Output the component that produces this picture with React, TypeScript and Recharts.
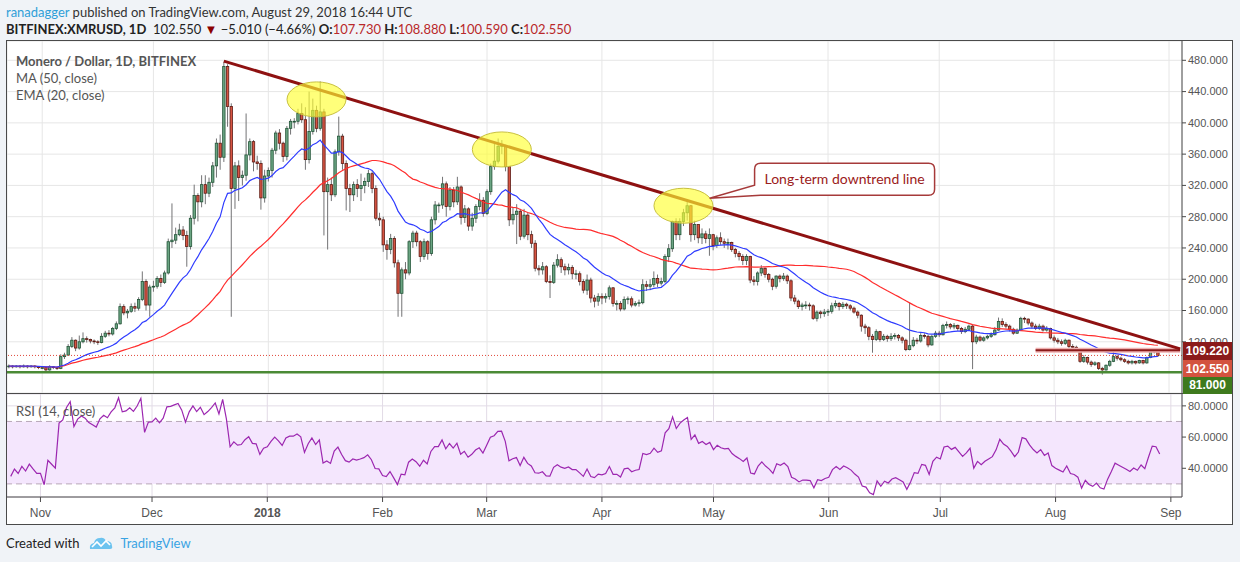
import React from "react";
import {
  ComposedChart,
  Bar,
  Line,
  XAxis,
  YAxis,
  CartesianGrid,
  ReferenceLine,
  ReferenceDot,
  ReferenceArea,
} from "recharts";

// [high, low, close] per day, open = previous close
type HLC = [number, number, number];

const firstOpen = 88;

const oct17: HLC[] = [
  [91, 86, 89], [90, 86, 88], [90, 87, 89], [90, 86, 88], [91, 87, 89], [90, 86, 88], [90, 87, 89], [90, 86, 88], [89, 85, 87],
];
const nov17: HLC[] = [
  [89, 85, 87], [88, 81, 84], [90, 83, 88], [89, 85, 87], [88, 84, 86], [104, 85, 101], [106, 98, 103], [117, 102, 114], [126, 112, 122], [123, 108, 112],
  [128, 110, 120], [132, 118, 124], [127, 119, 123], [124, 118, 121], [123, 117, 120], [122, 116, 119], [131, 118, 127], [134, 125, 131], [135, 127, 130], [139, 128, 137],
  [146, 135, 143], [169, 142, 165], [168, 154, 157], [162, 150, 159], [169, 157, 165], [170, 158, 163], [177, 160, 174], [210, 172, 197], [200, 160, 167], [193, 152, 190],
];
const dec17: HLC[] = [
  [198, 184, 191], [204, 188, 201], [206, 190, 196], [211, 194, 208], [252, 206, 248], [297, 240, 250], [266, 245, 257], [271, 255, 263], [268, 250, 256], [262, 216, 242],
  [282, 238, 278], [321, 270, 307], [310, 274, 299], [333, 292, 321], [333, 296, 310], [330, 305, 324], [350, 318, 345], [380, 330, 374], [385, 340, 356], [478, 350, 472],
  [475, 395, 421], [425, 152, 316], [350, 290, 345], [352, 300, 330], [339, 320, 333], [412, 326, 359], [380, 352, 376], [378, 338, 350], [358, 340, 348], [352, 289, 304],
  [340, 298, 332],
];
const jan18: HLC[] = [
  [343, 325, 339], [368, 330, 365], [390, 360, 387], [392, 366, 374], [376, 350, 357], [396, 352, 393], [405, 385, 402], [406, 393, 402], [418, 398, 412], [425, 400, 404],
  [420, 340, 353], [440, 348, 389], [431, 385, 416], [422, 388, 393], [453, 390, 414], [418, 256, 312], [330, 238, 321], [330, 300, 308], [366, 305, 363], [408, 358, 383],
  [386, 340, 348], [352, 288, 316], [322, 286, 308], [325, 300, 321], [328, 305, 316], [335, 300, 320], [330, 310, 325], [340, 318, 335], [338, 310, 316], [320, 275, 278],
  [285, 268, 276],
];
const feb18: HLC[] = [
  [280, 235, 244], [250, 225, 238], [258, 232, 252], [255, 215, 221], [225, 152, 182], [215, 152, 212], [222, 200, 208], [250, 205, 248], [262, 240, 259], [262, 242, 248],
  [250, 222, 229], [252, 225, 248], [250, 225, 233], [280, 230, 276], [300, 270, 295], [298, 285, 295], [331, 290, 322], [325, 280, 293], [318, 288, 314], [318, 292, 299],
  [331, 295, 318], [320, 270, 279], [295, 272, 290], [292, 262, 268], [285, 262, 278], [296, 272, 293], [310, 288, 301], [305, 280, 284],
];
const mar18: HLC[] = [
  [315, 282, 312], [348, 308, 344], [376, 340, 351], [380, 348, 370], [378, 360, 371], [372, 338, 344], [340, 268, 276], [292, 270, 283], [296, 245, 287], [290, 250, 255],
  [290, 252, 282], [285, 250, 257], [262, 240, 246], [250, 210, 214], [218, 205, 212], [222, 206, 216], [218, 195, 197], [205, 176, 196], [222, 194, 218], [232, 215, 225],
  [228, 208, 216], [220, 205, 212], [220, 206, 215], [218, 200, 207], [212, 200, 207], [210, 192, 197], [200, 182, 186], [206, 180, 199], [202, 170, 176], [180, 164, 172],
  [182, 166, 178],
];
const apr18: HLC[] = [
  [182, 168, 176], [182, 170, 178], [192, 174, 189], [190, 165, 169], [173, 160, 169], [172, 159, 162], [178, 160, 174], [178, 168, 175], [178, 164, 167], [172, 165, 169],
  [174, 165, 170], [200, 168, 193], [198, 185, 191], [200, 186, 193], [210, 190, 201], [206, 190, 195], [202, 192, 197], [232, 195, 229], [245, 222, 239], [275, 235, 274],
  [278, 250, 257], [278, 250, 274], [290, 268, 285], [302, 275, 294], [295, 248, 257], [275, 250, 270], [270, 246, 253], [265, 245, 258], [262, 246, 252], [265, 230, 257],
];
const may18: HLC[] = [
  [258, 237, 243], [256, 240, 253], [260, 244, 248], [252, 240, 246], [252, 238, 247], [248, 235, 238], [240, 228, 233], [236, 224, 229], [232, 218, 224], [232, 218, 229],
  [230, 195, 199], [204, 192, 197], [210, 192, 208], [218, 204, 214], [215, 202, 206], [208, 196, 200], [202, 186, 191], [205, 188, 204], [206, 196, 201], [208, 198, 204],
  [206, 194, 198], [200, 172, 176], [180, 168, 172], [174, 162, 165], [170, 160, 167], [172, 162, 167], [170, 160, 166], [168, 148, 150], [160, 146, 158], [160, 150, 156],
  [162, 152, 158],
];
const jun18: HLC[] = [
  [162, 153, 159], [170, 156, 166], [173, 163, 169], [171, 160, 165], [171, 162, 168], [170, 162, 166], [168, 160, 163], [165, 156, 158], [160, 150, 154], [155, 133, 140],
  [143, 130, 138], [140, 122, 127], [130, 106, 123], [136, 121, 133], [134, 120, 123], [130, 121, 127], [129, 120, 124], [131, 121, 127], [131, 123, 128], [130, 121, 125],
  [127, 118, 122], [124, 108, 110], [170, 109, 115], [126, 113, 122], [125, 117, 121], [131, 119, 128], [131, 124, 127], [129, 113, 116], [129, 115, 127], [134, 125, 131],
];
const jul18: HLC[] = [
  [134, 126, 129], [143, 128, 141], [146, 137, 142], [144, 136, 139], [144, 136, 141], [142, 134, 137], [139, 130, 133], [139, 131, 136], [142, 134, 140], [142, 85, 120],
  [129, 117, 126], [128, 120, 122], [127, 120, 125], [129, 123, 127], [132, 125, 129], [139, 128, 135], [151, 134, 146], [150, 139, 142], [145, 137, 140], [142, 133, 136],
  [138, 129, 131], [137, 130, 135], [152, 134, 150], [152, 144, 149], [150, 141, 144], [146, 137, 140], [143, 135, 137], [143, 135, 140], [142, 133, 135], [140, 133, 137],
  [138, 123, 125],
];
const aug18: HLC[] = [
  [128, 119, 122], [125, 117, 120], [123, 115, 118], [124, 116, 122], [123, 112, 114], [117, 110, 113], [115, 107, 110], [111, 93, 95], [103, 93, 100], [101, 91, 94],
  [96, 88, 91], [95, 89, 93], [94, 84, 86], [88, 78, 84], [91, 83, 90], [97, 88, 95], [110, 94, 101], [103, 96, 99], [101, 95, 97], [99, 93, 95],
  [97, 91, 93], [97, 91, 95], [96, 91, 93], [97, 92, 96], [97, 91, 93], [101, 92, 100], [109, 99, 108], [112, 105, 107.56], [108.88, 100.59, 102.55],
];

const monthTicks = [9, 39, 70, 101, 129, 160, 190, 221, 251, 282, 313];
const monthLabels = ["Nov", "Dec", "2018", "Feb", "Mar", "Apr", "May", "Jun", "Jul", "Aug", "Sep"];
const priceTicks = [120, 160, 200, 240, 280, 320, 360, 400, 440, 480];
const rsiTicks = [40, 60, 80];
const slots = 317;

const candles = [oct17, nov17, dec17, jan18, feb18, mar18, apr18, may18, jun18, jul18, aug18].flat();
const closes = candles.map((k) => k[2]);

function sma(v: number[], n: number) {
  return v.map((_, i) => {
    const part = v.slice(Math.max(0, i - n + 1), i + 1);
    return part.reduce((a, b) => a + b, 0) / part.length;
  });
}

function ema(v: number[], n: number) {
  const k = 2 / (n + 1);
  let e = v[0];
  return v.map((x, i) => (e = i === 0 ? x : x * k + e * (1 - k)));
}

// Wilder RSI; the averages are seeded from the October moves
function rsi(v: number[], n: number, seed: number) {
  const moves = v.slice(1, seed).map((x, i) => x - v[i]);
  let g = moves.reduce((a, d) => a + Math.max(d, 0), 0) / moves.length;
  let l = moves.reduce((a, d) => a + Math.max(-d, 0), 0) / moves.length;
  return v.map((x, i) => {
    if (i === 0) return null;
    const d = x - v[i - 1];
    g = (g * (n - 1) + Math.max(d, 0)) / n;
    l = (l * (n - 1) + Math.max(-d, 0)) / n;
    return l === 0 ? 100 : 100 - 100 / (1 + g / l);
  });
}

const ma50 = sma(closes, 50);
const ema20 = ema(closes, 20);
const rsi14 = rsi(closes, 14, oct17.length);

const rows = Array.from({ length: slots }, (_, i) => {
  const k = candles[i];
  if (!k) return { i };
  const o = i === 0 ? firstOpen : closes[i - 1];
  return { i, o, h: k[0], l: k[1], c: k[2], range: [k[1], k[0]], ma: ma50[i], ema: ema20[i], rsi: rsi14[i] };
});

const sans = "Lato, 'Open Sans', sans-serif";
const arial = "'Liberation Sans', Arial, sans-serif";

function Candle(props: any) {
  const { x, y, width, height, payload } = props;
  if (!payload || payload.h == null) return null;
  const { o, h, l, c } = payload;
  const top = Math.min(y, y + height);
  const span = Math.abs(height);
  const k = h === l ? 0 : span / (h - l);
  const yo = top + (h - o) * k;
  const yc = top + (h - c) * k;
  const cx = x + width / 2;
  const up = c >= o;
  return (
    <g>
      <line x1={cx} x2={cx} y1={top} y2={top + span} stroke="#737375" strokeWidth={1} />
      <rect
        x={cx - 1.2}
        y={Math.min(yo, yc)}
        width={2.4}
        height={Math.max(Math.abs(yc - yo), 0.8)}
        fill={up ? "#6ba583" : "#d75442"}
        stroke={up ? "#225437" : "#5b1a13"}
        strokeWidth={0.8}
      />
    </g>
  );
}

const Highlight = (p: any) => (
  <ellipse cx={p.cx} cy={p.cy} rx={29.5} ry={17.5} fill="#ffff33" fillOpacity={0.65} stroke="#c8c040" strokeWidth={1} />
);

const Callout = (p: any) => {
  const l = p.cx - 3;
  const r = l + 180;
  const t = p.cy - 16;
  const b = p.cy + 16;
  const q = 6;
  const d = `M${l + q},${t} H${r - q} Q${r},${t} ${r},${t + q} V${b - q} Q${r},${b} ${r - q},${b} H${l + 6} L${l - 45},${b + 3} L${l},${p.cy + 6} V${t + q} Q${l},${t} ${l + q},${t} Z`;
  return (
    <g>
      <path d={d} fill="#ffffff" stroke="#a63a3a" strokeWidth={1.5} />
      <text x={(l + r) / 2} y={p.cy + 5} textAnchor="middle" fontSize={14} fill="#9b2020" fontFamily={sans}>
        Long-term downtrend line
      </text>
    </g>
  );
};

const MonthTick = (p: any) => {
  const label = monthLabels[monthTicks.indexOf(Number(p.payload.value))];
  return (
    <text x={p.x} y={p.y + 4} dy="0.71em" textAnchor="middle" fontSize={12} fill="#555" fontFamily={arial} fontWeight={label === "2018" ? 700 : 400}>
      {label}
    </text>
  );
};

const priceBox = (top: number, bg: string, text: string, h = 18) => (
  <div
    style={{
      position: "absolute", left: 1183, top, width: 49, height: h, background: bg, color: "#fff",
      fontFamily: arial, fontSize: 12, fontWeight: 700, lineHeight: `${h}px`, textAlign: "center",
    }}
  >
    {text}
  </div>
);

export default function App() {
  const axisTick = { fontSize: 11, fill: "#555", fontFamily: arial };
  return (
    <div style={{ position: "fixed", left: 0, top: 0, width: 1240, height: 562, background: "#f0f3f7", fontFamily: sans, overflow: "hidden" }}>
      <div style={{ position: "absolute", left: 6, top: 4, fontSize: 13, color: "#333", whiteSpace: "nowrap" }}>
        <span style={{ color: "#2f9fd8" }}>ranadagger</span> published on TradingView.com, August 29, 2018 16:44 UTC
      </div>
      <div style={{ position: "absolute", left: 6, top: 21, fontSize: 13, color: "#222", whiteSpace: "nowrap" }}>
        <b>BITFINEX:XMRUSD, 1D</b>&nbsp; 102.550 <span style={{ color: "#8b0000" }}>▼</span> −5.010 (−4.66%) <b>O:</b>
        <span style={{ color: "#b9282a" }}>107.730</span> <b>H:</b><span style={{ color: "#b9282a" }}>108.880</span> <b>L:</b>
        <span style={{ color: "#b9282a" }}>100.590</span> <b>C:</b><span style={{ color: "#b9282a" }}>102.550</span>
      </div>

      <div style={{ position: "absolute", left: 6, top: 40, width: 1225, height: 483, border: "1px solid #4a4a4a", background: "#fff" }}>
        <div style={{ position: "absolute", left: 0, top: 0, width: 1225, height: 352, borderBottom: "1px solid #4a4a4a" }}>
          <ComposedChart width={1225} height={352} data={rows} margin={{ top: 0, right: 0, bottom: 0, left: 0 }}>
            <CartesianGrid stroke="#e6e6e6" />
            <XAxis dataKey="i" type="category" hide ticks={monthTicks} interval={0} />
            <YAxis
              orientation="right"
              width={50}
              domain={[54.5, 504.7]}
              allowDataOverflow
              ticks={priceTicks}
              interval={0}
              tickFormatter={(v: number) => v.toFixed(3)}
              tick={axisTick}
              tickSize={4}
              tickMargin={2}
              axisLine={{ stroke: "#4a4a4a" }}
              tickLine={{ stroke: "#4a4a4a" }}
            />
            <ReferenceLine y={81} stroke="#4b8a35" strokeWidth={2.5} />
            <Bar dataKey="range" shape={Candle} isAnimationActive={false} />
            <Line dataKey="ma" stroke="#ff2d2d" strokeWidth={1.2} dot={false} isAnimationActive={false} />
            <Line dataKey="ema" stroke="#2f3cff" strokeWidth={1.2} dot={false} isAnimationActive={false} />
            <ReferenceLine y={102.55} stroke="#e0483a" strokeDasharray="1 2" />
            <ReferenceLine segment={[{ x: 277, y: 109.22 }, { x: 316, y: 109.22 }]} stroke="#efb0b0" strokeWidth={5} />
            <ReferenceLine segment={[{ x: 277, y: 109.22 }, { x: 316, y: 109.22 }]} stroke="#8b1a1a" strokeWidth={2} />
            <ReferenceLine segment={[{ x: 58, y: 479 }, { x: 316, y: 111 }]} stroke="#8e1111" strokeWidth={3} />
            <ReferenceDot x={83} y={430} ifOverflow="visible" shape={Highlight} />
            <ReferenceDot x={133} y={366} ifOverflow="visible" shape={Highlight} />
            <ReferenceDot x={182} y={294} ifOverflow="visible" shape={Highlight} />
            <ReferenceDot x={202} y={328} ifOverflow="visible" shape={Callout} />
          </ComposedChart>
          <div style={{ position: "absolute", left: 9, top: 12, fontSize: 13, lineHeight: "17px", color: "#555" }}>
            <div style={{ fontWeight: 700 }}>Monero / Dollar, 1D, BITFINEX</div>
            <div>MA (50, close)</div>
            <div>EMA (20, close)</div>
          </div>
        </div>

        <div style={{ position: "absolute", left: 0, top: 353, width: 1225, height: 130 }}>
          <ComposedChart width={1225} height={130} data={rows} margin={{ top: 0, right: 0, bottom: 0, left: 0 }}>
            <ReferenceArea y1={30} y2={70} fill="#f4e6fd" fillOpacity={1} stroke="none" />
            <CartesianGrid stroke="#e2dbe6" />
            <XAxis
              dataKey="i"
              type="category"
              ticks={monthTicks}
              interval={0}
              height={27}
              tick={<MonthTick />}
              tickSize={5}
              axisLine={{ stroke: "#4a4a4a" }}
              tickLine={{ stroke: "#4a4a4a" }}
            />
            <YAxis
              orientation="right"
              width={50}
              domain={[21.6, 87.6]}
              allowDataOverflow
              ticks={rsiTicks}
              interval={0}
              tickFormatter={(v: number) => v.toFixed(4)}
              tick={axisTick}
              tickSize={4}
              tickMargin={2}
              axisLine={{ stroke: "#4a4a4a" }}
              tickLine={{ stroke: "#4a4a4a" }}
            />
            <ReferenceLine y={70} stroke="#b8a8b8" strokeDasharray="6 4" />
            <ReferenceLine y={30} stroke="#b8a8b8" strokeDasharray="6 4" />
            <Line dataKey="rsi" stroke="#9c27b0" strokeWidth={1.2} dot={false} isAnimationActive={false} />
          </ComposedChart>
          <div style={{ position: "absolute", left: 9, top: 9, fontSize: 13, color: "#555" }}>RSI (14, close)</div>
        </div>
      </div>

      {priceBox(342, "#8b1a1a", "109.220")}
      {priceBox(360, "#d3533f", "102.550")}
      {priceBox(377, "#3e7a1d", "81.000", 17)}

      <div style={{ position: "absolute", left: 6, top: 535, fontSize: 13, color: "#222", whiteSpace: "nowrap", display: "flex", alignItems: "center" }}>
        <span>Created with</span>
        <svg width={26} height={16} viewBox="0 0 26 16" style={{ marginLeft: 9, marginRight: 6 }}>
          <path d="M2 14 Q1 9 6 8 Q7 3 12 3 Q16 2 18 6 Q24 6 24 11 Q25 14 22 14 Z" fill="#6cc3ef" />
          <polyline points="4,12 9,7 13,11 18,6 22,10" fill="none" stroke="#ffffff" strokeWidth={1.6} />
        </svg>
        <span style={{ color: "#3aa3e3" }}>TradingView</span>
      </div>
    </div>
  );
}
